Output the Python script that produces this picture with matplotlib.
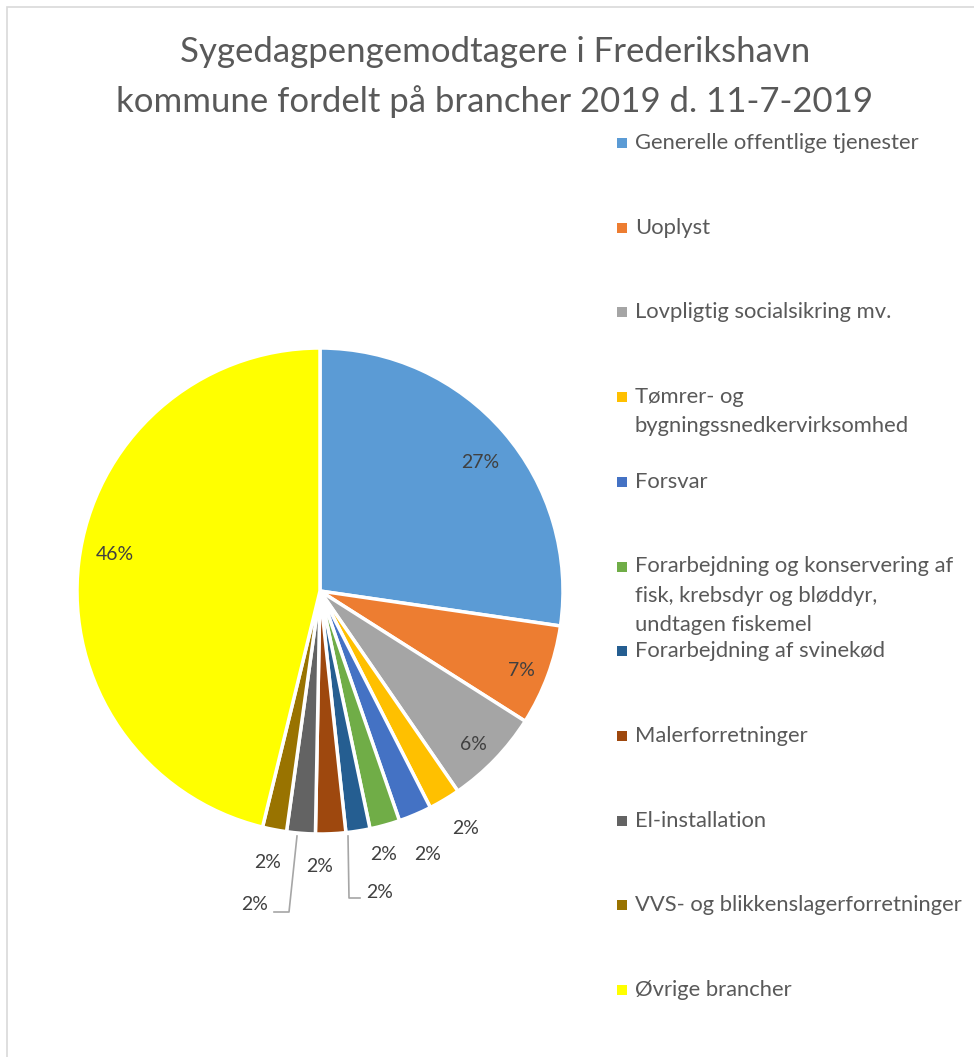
import numpy as np
import matplotlib.pyplot as plt
from matplotlib.patches import Rectangle

plt.rcParams['font.family'] = ['Lato', 'DejaVu Sans']

# data
brancher = ["Generelle offentlige tjenester",
            "Uoplyst",
            "Lovpligtig socialsikring mv.",
            "Tømrer- og\nbygningssnedkervirksomhed",
            "Forsvar",
            "Forarbejdning og konservering af\nfisk, krebsdyr og bløddyr,\nundtagen fiskemel",
            "Forarbejdning af svinekød",
            "Malerforretninger",
            "El-installation",
            "VVS- og blikkenslagerforretninger",
            "Øvrige brancher"]
andel = [27.3, 6.7, 6.4, 2.1, 2.2, 2.0, 1.6, 2.0, 1.9, 1.6, 46.2]
farver = ["#5B9BD5", "#ED7D31", "#A5A5A5", "#FFC000", "#4472C4", "#70AD47",
          "#255E91", "#9E480E", "#636363", "#997300", "#FFFF00"]

W, H = 974, 1057
fig = plt.figure(figsize=(W / 100, H / 100), dpi=100)

# tynd ramme (kun venstre og top synlig)
fig.add_artist(Rectangle((7 / W, -0.1), 1.2, (H - 7) / H + 0.1, transform=fig.transFigure,
                         fill=False, edgecolor="#D9D9D9", linewidth=1.2))

fig.text(495 / W, 1 - 52 / H, "Sygedagpengemodtagere i Frederikshavn",
         ha="center", va="center", fontsize=25, color="#595959")
fig.text(495 / W, 1 - 102 / H, "kommune fordelt på brancher 2019 d. 11-7-2019",
         ha="center", va="center", fontsize=25, color="#595959")

# pie akse: centrum (320, 591), radius 243 px
cx, cy, R = 320, 591, 243
ax = fig.add_axes([(cx - R) / W, (H - cy - R) / H, 2 * R / W, 2 * R / H])
ax.pie(andel, colors=farver, startangle=90, counterclock=False, radius=1,
       wedgeprops=dict(edgecolor="white", linewidth=2.5))
ax.set_xlim(-1, 1)
ax.set_ylim(-1, 1)
ax.axis("off")

total = sum(andel)
labels = [f"{round(v / total * 100)}%" for v in andel]

# label positioner (pixel)
pos = [(480, 462), (521, 670), (473, 745), (466, 828), (428, 855), (384, 855),
       (380, 892), (320, 867), (255, 905), (268, 862), (115, 555)]
for lab, (px, py) in zip(labels, pos):
    ax.text((px - cx) / R, (cy - py) / R, lab, ha="center", va="center",
            fontsize=14, color="#404040")

# ledelinjer
def leader(pts):
    xs = [(p[0] - cx) / R for p in pts]
    ys = [(cy - p[1]) / R for p in pts]
    ax.plot(xs, ys, color="#A6A6A6", linewidth=1.2, clip_on=False)

leader([(348, 836), (349, 898), (360, 898)])
leader([(297, 836), (289, 912), (274, 912)])

# legende
slot0, step = 143, 84.7
for i, (navn, farve) in enumerate(zip(brancher, farver)):
    y = slot0 + i * step
    fig.add_artist(Rectangle((617 / W, 1 - (y + 5) / H), 10 / W, 10 / H,
                             transform=fig.transFigure, facecolor=farve, edgecolor="none"))
    fig.text(635 / W, 1 - (y - 10) / H, navn, ha="left", va="top", fontsize=15.8,
             color="#595959", linespacing=1.58)

fig.savefig("out.png", dpi=100)
